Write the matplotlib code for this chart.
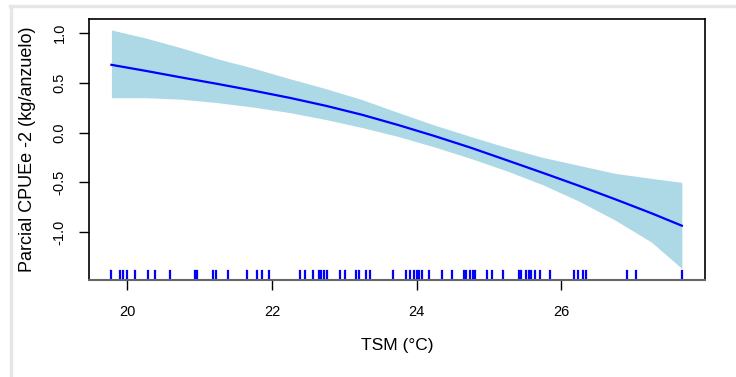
"""Partial effect of TSM on CPUE (GAM smooth with confidence band and rug)."""

import matplotlib

matplotlib.use("Agg")
import matplotlib.pyplot as plt
from matplotlib.lines import Line2D

plt.rcParams["font.family"] = ["Liberation Sans", "DejaVu Sans"]

# smooth term
tsm = [19.78, 20.25, 20.75, 21.25, 21.75, 22.25, 22.75, 23.25, 23.75, 24.25,
       24.75, 25.25, 25.75, 26.25, 26.75, 27.25, 27.67]
fit = [0.68, 0.62, 0.553, 0.488, 0.42, 0.348, 0.268, 0.178, 0.075, -0.035,
       -0.152, -0.278, -0.405, -0.535, -0.67, -0.81, -0.935]
upper = [1.03, 0.95, 0.85, 0.74, 0.645, 0.54, 0.44, 0.33, 0.20, 0.075,
         -0.04, -0.15, -0.25, -0.33, -0.41, -0.46, -0.50]
lower = [0.35, 0.35, 0.335, 0.30, 0.255, 0.20, 0.13, 0.05, -0.04, -0.145,
         -0.26, -0.385, -0.525, -0.69, -0.88, -1.10, -1.365]

# observed TSM values (rug)
rug_x = [19.78, 19.90, 19.94, 19.99, 20.11, 20.29, 20.38, 20.59, 20.93, 20.97,
         21.18, 21.22, 21.39, 21.65, 21.80, 21.86, 21.96, 22.39, 22.46, 22.57,
         22.65, 22.68, 22.72, 22.76, 22.94, 23.01, 23.16, 23.20, 23.30, 23.35,
         23.67, 23.85, 23.91, 23.96, 24.00, 24.04, 24.08, 24.17, 24.35, 24.49,
         24.66, 24.69, 24.74, 24.78, 24.81, 24.98, 25.04, 25.19, 25.42, 25.45,
         25.51, 25.55, 25.58, 25.64, 25.71, 25.85, 26.18, 26.24, 26.30, 26.35,
         26.91, 27.04, 27.67]

x_ticks = [20, 22, 24, 26]
y_ticks = [-1.0, -0.5, 0.0, 0.5, 1.0]

fig = plt.figure(figsize=(7.36, 3.77), dpi=100)
ax = fig.add_axes([89 / 736, 1 - 280 / 377, 616 / 736, 261 / 377])

ax.fill_between(tsm, lower, upper, color="#ADD8E6", linewidth=0)
ax.plot(tsm, fit, color="#0000FF", linewidth=1.6)
for xv in rug_x:
    ax.axvline(xv, ymin=0, ymax=0.035, color="#0000FF", linewidth=1.6)

ax.set_xlim(19.47, 27.99)
ax.set_ylim(-1.48, 1.14)
ax.set_xticks(x_ticks)
ax.set_xticklabels([str(v) for v in x_ticks])
ax.set_yticks(y_ticks)
ax.set_yticklabels([f"{v:.1f}" for v in y_ticks], rotation=90, va="center")
ax.tick_params(axis="both", direction="out", length=7, width=1, labelsize=10.5)
ax.tick_params(axis="x", pad=11)
ax.tick_params(axis="y", pad=9)
for side in ["left", "top", "right"]:
    ax.spines[side].set_linewidth(1.2)
ax.spines["bottom"].set_color("#666666")
ax.spines["bottom"].set_linewidth(1.5)

ax.set_xlabel("TSM (°C)", fontsize=12.5, labelpad=14)
ax.set_ylabel("Parcial CPUEe -2 (kg/anzuelo)", fontsize=13, labelpad=12)

# light frame around the panel, as in the screenshot
fig.add_artist(Line2D([10 / 736, 1], [1 - 6 / 377] * 2, color="#E6E6E6",
                      linewidth=2.5, transform=fig.transFigure))
fig.add_artist(Line2D([11 / 736] * 2, [0, 1 - 6 / 377], color="#E6E6E6",
                      linewidth=2.5, transform=fig.transFigure))

fig.savefig("out.png", dpi=100)
plt.close(fig)
